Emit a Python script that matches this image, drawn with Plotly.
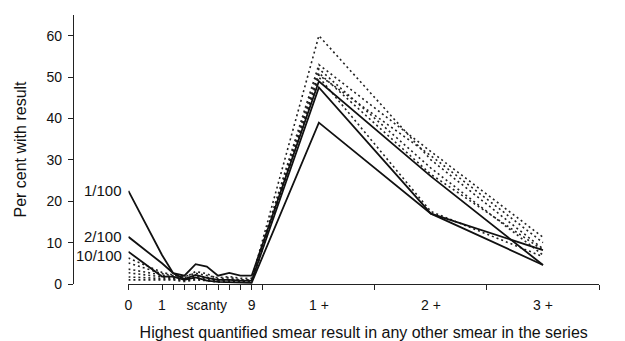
import plotly.graph_objects as go

# x categories and their positions on the (uneven) axis scale
categories = ["0", "1", "2", "3", "4", "5", "6", "7", "8", "9", "1+", "2+", "3+"]
cat_pos = {"0": -2, "1": 1, "2": 2, "3": 3, "4": 4, "5": 5, "6": 6, "7": 7,
           "8": 8, "9": 9, "1+": 15, "2+": 25, "3+": 35}

tick_marks = [-2, 1, 2, 3, 4, 5, 6, 7, 8, 9, 10, 20, 30, 40]
label_pos = [-2, 1, 5, 9, 15, 25, 35]
label_text = ["0", "1", "scanty", "9", "1 +", "2 +", "3 +"]

# labelled (solid) series
solid_names = ["1/100", "2/100", "10/100"]
s_1_100 = [22.5, 7.0, 2.6, 2.0, 4.8, 4.2, 2.0, 2.7, 2.0, 2.0, 49.0, 26.0, 4.6]
s_2_100 = [11.4, 5.0, 2.6, 1.2, 2.2, 1.5, 1.0, 1.0, 0.8, 0.8, 47.5, 17.0, 8.2]
s_10_100 = [7.8, 1.8, 1.8, 1.0, 1.6, 0.8, 0.5, 0.4, 0.3, 0.3, 39.0, 17.0, 4.6]

# unlabelled (dotted) series
d1 = [6.3, 2.8, 2.2, 1.5, 3.0, 2.5, 1.2, 1.6, 1.0, 1.0, 60.0, 30.0, 8.5]
d2 = [5.1, 2.5, 2.0, 1.8, 2.6, 2.0, 1.5, 1.8, 1.4, 1.4, 53.0, 32.0, 11.3]
d3 = [3.6, 2.2, 1.6, 1.2, 2.0, 1.6, 1.0, 1.2, 1.0, 1.0, 52.0, 28.0, 7.0]
d4 = [2.7, 1.8, 1.4, 1.0, 1.5, 1.2, 0.8, 1.0, 0.8, 0.8, 51.0, 26.5, 8.2]
d5 = [1.7, 1.4, 1.2, 0.8, 1.2, 1.0, 0.6, 0.8, 0.6, 0.6, 50.5, 31.0, 10.0]
d6 = [1.0, 1.0, 1.0, 0.6, 1.0, 0.8, 0.5, 0.6, 0.5, 0.5, 50.0, 17.5, 6.6]

xs = [cat_pos[c] for c in categories]
FONT = "Liberation Sans, Arial, Helvetica, sans-serif"

fig = go.Figure()
for ys in [d1, d2, d3, d4, d5, d6]:
    fig.add_trace(go.Scatter(x=xs, y=ys, mode="lines",
                             line=dict(color="#222", width=1.6, dash="2px,3px"),
                             showlegend=False, hoverinfo="skip"))
for name, ys in zip(solid_names, [s_1_100, s_2_100, s_10_100]):
    fig.add_trace(go.Scatter(x=xs, y=ys, mode="lines", name=name,
                             line=dict(color="#111", width=1.8),
                             showlegend=False))
# invisible trace to carry the label axis
fig.add_trace(go.Scatter(x=[None], y=[None], xaxis="x2", showlegend=False))

for name, ys, ysh in zip(solid_names, [s_1_100, s_2_100, s_10_100], [0, 0, -4]):
    fig.add_annotation(x=xs[0], y=ys[0], text=name, showarrow=False,
                       xanchor="right", yanchor="middle", xshift=-4, yshift=ysh,
                       font=dict(family=FONT, size=15, color="#111"))

L, R = 73, 26
W = 625
pw = W - L - R
xstart = (128.4 - L) / pw

fig.update_layout(
    width=625, height=341,
    margin=dict(l=L, r=R, t=15, b=57, autoexpand=False),
    plot_bgcolor="white", paper_bgcolor="white",
    font=dict(family=FONT, size=14, color="#111"),
    xaxis=dict(domain=[xstart, 1], range=[-2, 40], tickvals=tick_marks,
               showticklabels=False, ticks="outside", ticklen=5, tickwidth=1.2,
               tickcolor="#222", showline=True, linecolor="#222", linewidth=1.2,
               showgrid=False, zeroline=False, anchor="y", automargin=False),
    xaxis2=dict(domain=[xstart, 1], range=[-2, 40], overlaying="x", side="bottom",
                anchor="y", tickvals=label_pos, ticktext=label_text, ticks="",
                showline=False, showgrid=False, zeroline=False, automargin=False,
                tickfont=dict(size=14), ticklabelstandoff=11,
                title=dict(text="Highest quantified smear result in any other smear in the series",
                           font=dict(size=16), standoff=20)),
    yaxis=dict(range=[0, 65], tickvals=[0, 10, 20, 30, 40, 50, 60],
               ticks="outside", ticklen=5, tickwidth=1.2, tickcolor="#222",
               showline=True, linecolor="#222", linewidth=1.2,
               showgrid=False, zeroline=False, anchor="free", position=0,
               automargin=False, ticklabelstandoff=3,
               tickfont=dict(size=14),
               title=dict(text="Per cent with result", font=dict(size=16), standoff=14)),
)

fig.write_html("out.html", config={"displayModeBar": False},
               post_script="document.body.style.margin='0';")
